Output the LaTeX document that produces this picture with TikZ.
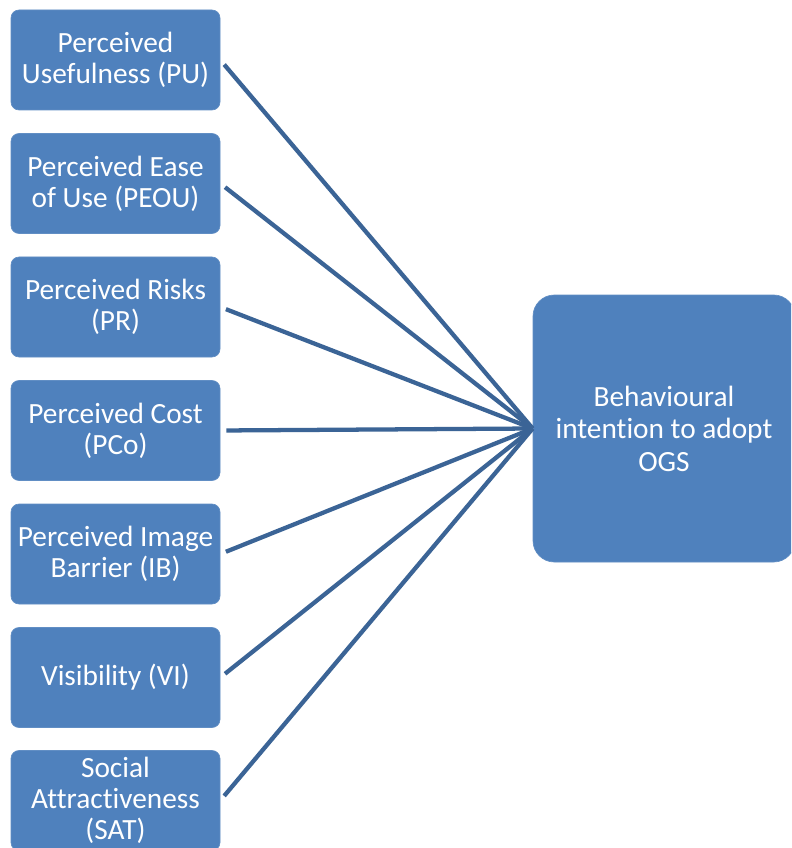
\documentclass[tikz,border=0pt]{standalone}
\usepackage{fontspec}
\setmainfont[Ligatures={NoCommon}]{Carlito}
\definecolor{boxfill}{HTML}{4F81BD}
\definecolor{linecol}{HTML}{3B6496}
\begin{document}
\begin{tikzpicture}[x=0.75pt,y=-0.75pt,
  factor/.style={draw=boxfill!90!white,line width=0.5pt,fill=boxfill,rounded corners=6pt,minimum width=209*0.75pt,minimum height=100*0.75pt,inner sep=0pt,text=white,align=center,font=\fontsize{22pt}{23.3pt}\selectfont},
  outbox/.style={draw=boxfill!90!white,line width=0.5pt,fill=boxfill,rounded corners=16pt,minimum width=262*0.75pt,minimum height=267*0.75pt,inner sep=0pt,text=white,align=center,font=\fontsize{22pt}{24.4pt}\selectfont},
  link/.style={draw=linecol,line width=3.2pt,shorten <=4.5pt}]
\clip (0,0) rectangle (791,848);
\fill[white] (0,0) rectangle (791,848);
\node[factor] (pu) at (115.5,60) {Perceived\\Usefulness (PU)};
\node[factor] (peou) at (115.5,183.5) {Perceived Ease\\of Use (PEOU)};
\node[factor] (pr) at (115.5,307) {Perceived Risks\\(PR)};
\node[factor] (pco) at (115.5,430.5) {Perceived Cost\\(PCo)};
\node[factor] (ib) at (115.5,554) {Perceived Image\\Barrier (IB)};
\node[factor] (vi) at (115.5,677.5) {Visibility (VI)};
\node[factor] (sat) at (115.5,800.5) {Social\\Attractiveness\\(SAT)};
\node[outbox] (bi) at (664,428.5) {Behavioural\\intention to adopt\\OGS};
\foreach \n in {pu,peou,pr,pco,ib,vi,sat}
  \draw[link] (\n.east) -- (bi.west);
\end{tikzpicture}
\end{document}
